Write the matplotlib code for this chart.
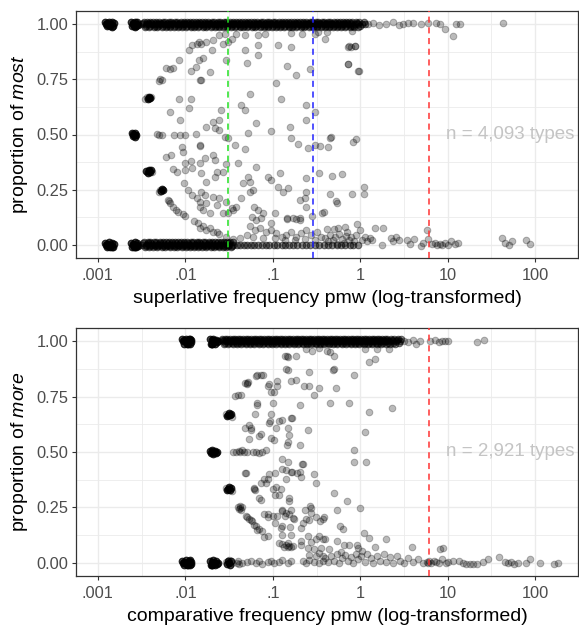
import matplotlib

matplotlib.use("Agg")
import matplotlib.pyplot as plt
import numpy as np

plt.rcParams["font.family"] = ["Liberation Sans", "DejaVu Sans"]
plt.rcParams["mathtext.fontset"] = "custom"
plt.rcParams["mathtext.rm"] = "Liberation Sans"
plt.rcParams["mathtext.it"] = "Liberation Sans:italic"

# x values are log10(frequency pmw), y values are proportions
X_TICKS = [-3, -2, -1, 0, 1, 2]
X_LABELS = [".001", ".01", ".1", "1", "10", "100"]
Y_TICKS = [0.0, 0.25, 0.5, 0.75, 1.0]
Y_LABELS = ["0.00", "0.25", "0.50", "0.75", "1.00"]

# how many types pile up behind each plotted position in the dense bands / clusters
BAND_STACK = 2
CLUSTER_STACK = 4

# ---------------- superlatives (most) ----------------
sup_one_rows = [1.012, 1.0, 0.988, 1.006, 0.994]
sup_one_x = [
    [-2.47, -2.44, -2.40, -2.37, -2.33, -2.30, -2.26, -2.23, -2.19, -2.16, -2.12, -2.09, -2.05, -2.02,
     -1.98, -1.95, -1.91, -1.88, -1.84, -1.81, -1.77, -1.74, -1.70, -1.67, -1.63, -1.60, -1.56, -1.53,
     -1.49, -1.46, -1.42, -1.39, -1.35, -1.32, -1.28, -1.25, -1.21, -1.18, -1.14, -1.11, -1.07, -1.04,
     -1.00, -0.97, -0.93, -0.90, -0.86, -0.83, -0.79, -0.76, -0.72, -0.69, -0.65, -0.62, -0.58, -0.55,
     -0.51, -0.48, -0.44, -0.41, -0.37, -0.34, -0.30, -0.27, -0.23, -0.20, -0.16, -0.13, -0.09, -0.05,
     -0.01, 0.04],
    [-2.49, -2.45, -2.42, -2.38, -2.35, -2.31, -2.28, -2.24, -2.21, -2.17, -2.14, -2.10, -2.07, -2.03,
     -2.00, -1.96, -1.93, -1.89, -1.86, -1.82, -1.79, -1.75, -1.72, -1.68, -1.65, -1.61, -1.58, -1.54,
     -1.51, -1.47, -1.44, -1.40, -1.37, -1.33, -1.30, -1.26, -1.23, -1.19, -1.16, -1.12, -1.09, -1.05,
     -1.02, -0.98, -0.95, -0.91, -0.88, -0.84, -0.81, -0.77, -0.74, -0.70, -0.67, -0.63, -0.60, -0.56,
     -0.53, -0.49, -0.46, -0.42, -0.39, -0.35, -0.32, -0.28, -0.25, -0.21, -0.18, -0.14, -0.10, -0.06,
     -0.02, 0.02, 0.06],
    [-2.46, -2.41, -2.36, -2.32, -2.27, -2.22, -2.18, -2.13, -2.08, -2.04, -1.99, -1.94, -1.90, -1.85,
     -1.80, -1.76, -1.71, -1.66, -1.62, -1.57, -1.52, -1.48, -1.43, -1.38, -1.34, -1.29, -1.24, -1.20,
     -1.15, -1.10, -1.06, -1.01, -0.96, -0.92, -0.87, -0.82, -0.78, -0.73, -0.68, -0.64, -0.59, -0.54,
     -0.50, -0.45, -0.40, -0.36, -0.31, -0.26, -0.22, -0.17, -0.12, -0.07, -0.03],
    [-2.48, -2.43, -2.39, -2.34, -2.29, -2.25, -2.20, -2.15, -2.11, -2.06, -2.01, -1.97, -1.92, -1.87,
     -1.83, -1.78, -1.73, -1.69, -1.64, -1.59, -1.55, -1.50, -1.45, -1.41, -1.36, -1.31, -1.27, -1.22,
     -1.17, -1.13, -1.08, -1.03, -0.99, -0.94, -0.89, -0.85, -0.80, -0.75, -0.71, -0.66, -0.61, -0.57,
     -0.52, -0.47, -0.43, -0.38, -0.33, -0.29, -0.24, -0.19, -0.15, -0.11, -0.04],
    [-2.45, -2.40, -2.35, -2.31, -2.26, -2.21, -2.17, -2.12, -2.07, -2.03, -1.98, -1.93, -1.89, -1.84,
     -1.79, -1.75, -1.70, -1.65, -1.61, -1.56, -1.51, -1.47, -1.42, -1.37, -1.33, -1.28, -1.23, -1.19,
     -1.14, -1.09, -1.05, -1.00, -0.95, -0.91, -0.86, -0.81, -0.77, -0.72, -0.67, -0.63, -0.58, -0.53,
     -0.49, -0.44, -0.39, -0.35, -0.30, -0.25, -0.21, -0.16, -0.11, -0.08, 0.00],
]
sup_zero_rows = [0.012, 0.0, -0.012, 0.006, -0.006]
sup_zero_x = [
    [-2.47, -2.43, -2.40, -2.36, -2.33, -2.29, -2.26, -2.22, -2.19, -2.15, -2.12, -2.08, -2.05, -2.01,
     -1.98, -1.94, -1.91, -1.87, -1.84, -1.80, -1.77, -1.73, -1.70, -1.66, -1.63, -1.59, -1.56, -1.52,
     -1.49, -1.45],
    [-2.49, -2.45, -2.42, -2.38, -2.35, -2.31, -2.28, -2.24, -2.21, -2.17, -2.14, -2.10, -2.07, -2.03,
     -2.00, -1.96, -1.93, -1.89, -1.86, -1.82, -1.79, -1.75, -1.72, -1.68, -1.65, -1.61, -1.58, -1.54,
     -1.50, -1.46, -1.41, -1.37, -1.33, -1.29, -1.25, -1.21, -1.17, -1.12, -1.08, -1.04, -0.99, -0.95,
     -0.90, -0.86, -0.81, -0.77, -0.72, -0.67, -0.62, -0.57, -0.52, -0.47, -0.42, -0.37, -0.32, -0.27,
     -0.22, -0.17, -0.12, -0.08, -0.03],
    [-2.46, -2.41, -2.37, -2.32, -2.27, -2.23, -2.18, -2.13, -2.09, -2.04, -1.99, -1.95, -1.90, -1.85,
     -1.81, -1.76, -1.71, -1.67, -1.62, -1.57, -1.53, -1.48],
    [-2.48, -2.43, -2.39, -2.34, -2.29, -2.25, -2.20, -2.15, -2.11, -2.06, -2.01, -1.97, -1.92, -1.87,
     -1.83, -1.78, -1.73, -1.69, -1.64, -1.59, -1.55, -1.50],
    [-2.45, -2.40, -2.35, -2.31, -2.26, -2.21, -2.17, -2.12, -2.07, -2.03, -1.98, -1.93, -1.89, -1.84,
     -1.79, -1.75, -1.70, -1.65, -1.61, -1.56, -1.51, -1.47],
]
# 1-, 2- and 3-token types: heavy overplotting
sup_heavy = [
    (-2.92, 1.01), (-2.90, 0.99), (-2.89, 1.005), (-2.87, 1.012), (-2.86, 0.992), (-2.85, 1.0),
    (-2.84, 1.01), (-2.83, 0.99), (-2.82, 1.005), (-2.88, 0.995), (-2.91, 1.0), (-2.84, 0.988),
    (-2.92, 0.01), (-2.90, -0.01), (-2.89, 0.005), (-2.87, 0.012), (-2.86, -0.008), (-2.85, 0.0),
    (-2.84, 0.01), (-2.83, -0.01), (-2.82, 0.005), (-2.88, -0.005), (-2.91, 0.0), (-2.84, -0.012),
    (-2.62, 1.01), (-2.61, 0.99), (-2.60, 1.005), (-2.59, 0.99), (-2.58, 1.012), (-2.57, 1.0),
    (-2.56, 0.99), (-2.55, 1.008), (-2.54, 0.995), (-2.60, 1.0), (-2.57, 0.988), (-2.55, 1.0),
    (-2.62, 0.01), (-2.61, -0.01), (-2.60, 0.005), (-2.59, -0.01), (-2.58, 0.012), (-2.57, 0.0),
    (-2.56, -0.01), (-2.55, 0.008), (-2.54, -0.005), (-2.60, 0.0), (-2.57, -0.012), (-2.55, 0.0),
    (-2.61, 0.505), (-2.60, 0.495), (-2.59, 0.50), (-2.58, 0.508), (-2.57, 0.49), (-2.56, 0.50),
    (-2.58, 0.497), (-2.60, 0.503),
    (-2.43, 0.66), (-2.41, 0.672), (-2.40, 0.664), (-2.42, 0.667),
    (-2.45, 0.335), (-2.43, 0.325), (-2.42, 0.34), (-2.40, 0.33), (-2.39, 0.338), (-2.41, 0.333),
    (-2.28, 0.245), (-2.27, 0.255), (-2.26, 0.248),
]
sup_low_tokens = [
    (-2.44, 0.67), (-2.39, 0.668), (-2.46, 0.662), (-2.44, 0.328), (-2.38, 0.332),
    (-2.30, 0.743), (-2.27, 0.745), (-2.29, 0.75),
    (-2.29, 0.25), (-2.30, 0.24),
    (-2.32, 0.502), (-2.27, 0.497), (-2.30, 0.5),
    (-2.22, 0.803), (-2.18, 0.798), (-2.146, 0.803), (-2.18, 0.603), (-2.22, 0.40), (-2.165, 0.407),
    (-2.20, 0.203), (-2.18, 0.188), (-2.146, 0.173), (-2.19, 0.198),
]
sup_middle = [
    (-2.13, 0.5), (-2.06, 0.5), (-2.0, 0.5), (-2.07, 0.84), (-2.07, 0.663), (-1.94, 0.663),
    (-1.955, 0.618), (-2.06, 0.565), (-1.88, 0.502), (-2.04, 0.445), (-2.025, 0.42), (-1.83, 0.45),
    (-2.146, 0.342), (-2.09, 0.331), (-2.0, 0.37), (-1.94, 0.38), (-2.0, 0.34), (-1.925, 0.347),
    (-2.01, 0.282), (-1.975, 0.248), (-1.92, 0.226), (-1.87, 0.21), (-1.835, 0.196), (-2.11, 0.158),
    (-2.08, 0.15), (-2.03, 0.14), (-2.0, 0.131), (-1.90, 0.108), (-1.85, 0.098), (-1.94, 0.79),
    (-1.88, 0.806), (-1.84, 0.837), (-1.955, 0.882), (-1.92, 0.905), (-1.87, 0.912), (-1.84, 0.92),
    (-1.83, 0.746), (-1.82, 0.324),
    (-1.815, 0.912), (-1.76, 0.92), (-1.68, 0.927), (-1.61, 0.95), (-1.55, 0.957), (-1.57, 0.912),
    (-1.51, 0.92), (-1.47, 0.935), (-1.415, 0.957), (-1.32, 0.95), (-1.17, 0.95), (-1.09, 0.957),
    (-1.17, 0.905), (-1.32, 0.885), (-0.94, 0.905), (-0.79, 0.96), (-0.79, 0.897), (-0.67, 0.957),
    (-0.52, 0.957), (-0.48, 0.965), (-1.70, 0.882), (-1.53, 0.837), (-1.30, 0.822), (-1.17, 0.86),
    (-1.80, 0.845), (-1.72, 0.784), (-1.815, 0.746), (-0.84, 0.81), (-0.73, 0.769), (-0.58, 0.795),
    (-0.965, 0.734), (-1.26, 0.683), (-0.91, 0.663), (-1.59, 0.61), (-1.36, 0.633), (-1.32, 0.61),
    (-0.615, 0.633), (-0.52, 0.603), (-1.76, 0.535), (-1.68, 0.558), (-1.62, 0.565), (-1.66, 0.528),
    (-1.61, 0.52), (-1.19, 0.55), (-1.28, 0.508), (-1.015, 0.517), (-0.805, 0.535), (-0.615, 0.565),
    (-1.55, 0.49), (-1.51, 0.482), (-1.43, 0.452), (-1.32, 0.433), (-0.79, 0.485), (-0.71, 0.455),
    (-0.60, 0.44), (-0.52, 0.452), (-0.46, 0.448), (-1.834, 0.452), (-1.78, 0.392), (-1.68, 0.407),
    (-1.66, 0.384), (-1.53, 0.366), (-1.40, 0.372), (-1.19, 0.351), (-1.834, 0.37), (-1.64, 0.332),
    (-1.57, 0.332), (-1.66, 0.309), (-1.76, 0.286), (-1.34, 0.282), (-1.28, 0.309), (-1.26, 0.286),
    (-1.225, 0.248), (-1.26, 0.241), (-1.05, 0.309), (-1.015, 0.294), (-0.92, 0.324), (-0.94, 0.264),
    (-0.88, 0.241), (-0.825, 0.256), (-0.615, 0.301), (-0.69, 0.203), (-0.63, 0.211), (-1.815, 0.241),
    (-1.78, 0.226), (-1.68, 0.218), (-1.61, 0.211), (-1.53, 0.196), (-1.47, 0.166), (-1.45, 0.158),
    (-1.76, 0.188), (-1.72, 0.143), (-1.64, 0.181), (-1.57, 0.143), (-1.51, 0.143), (-1.415, 0.173),
    (-1.36, 0.211), (-1.80, 0.158), (-1.834, 0.173), (-1.21, 0.173), (-1.17, 0.158), (-1.11, 0.143),
    (-0.98, 0.146), (-0.84, 0.116), (-0.73, 0.116), (-0.69, 0.113), (-1.19, 0.113), (-1.015, 0.098),
    (-1.24, 0.128), (-1.13, 0.12),
    (-0.38, 0.965), (-0.40, 0.935), (-0.093, 0.97), (-0.14, 0.897), (-0.10, 0.897), (-0.06, 0.9),
    (-0.14, 0.82), (-0.02, 0.79), (-0.34, 0.486), (-0.37, 0.445), (-0.33, 0.49), (-0.08, 0.467),
    (-0.05, 0.478), (-0.32, 0.31), (-0.21, 0.32), (-0.35, 0.23), (-0.093, 0.23), (0.04, 0.26),
    (0.04, 0.23), (-0.28, 0.2), (-0.26, 0.19), (-0.417, 0.15), (-0.62, 0.17), (-0.44, 0.145),
    (-0.55, 0.13), (-0.62, 0.24), (-0.47, 0.325),
]
sup_near_zero = [
    (-1.834, 0.075), (-1.76, 0.067), (-1.68, 0.06), (-1.61, 0.05), (-1.53, 0.037), (-1.45, 0.025),
    (-1.80, 0.083), (-1.72, 0.075), (-1.64, 0.06), (-1.263, 0.083), (-1.205, 0.068), (-1.148, 0.075),
    (-1.072, 0.06), (-1.015, 0.068), (-0.958, 0.052), (-0.90, 0.037), (-0.844, 0.045), (-0.786, 0.06),
    (-0.729, 0.037), (-0.672, 0.052), (-0.615, 0.068), (-0.558, 0.045), (-0.50, 0.06), (-0.444, 0.037),
    (-1.224, 0.037), (-1.11, 0.03), (-0.977, 0.03), (-0.863, 0.022), (-0.748, 0.022), (-0.634, 0.025),
    (-0.52, 0.022), (-0.84, 0.12), (-0.77, 0.12), (-0.69, 0.12), (-1.38, 0.03), (-1.30, 0.045),
    (-0.38, 0.07), (-0.30, 0.07), (-0.25, 0.075), (-0.17, 0.08), (-0.15, 0.06), (-0.04, 0.095),
    (0.0, 0.068), (0.17, 0.078), (0.26, 0.078), (0.76, 0.068),
    (-0.40, 0.03), (-0.37, 0.015), (-0.34, 0.045), (-0.31, 0.02), (-0.29, 0.035), (-0.26, 0.005),
    (-0.24, 0.05), (-0.21, 0.025), (-0.19, 0.01), (-0.16, 0.04), (-0.13, 0.02), (-0.10, 0.035),
    (-0.07, 0.015), (-0.05, 0.045), (0.02, 0.02), (0.05, 0.035), (0.08, 0.015), (0.11, 0.03),
    (0.14, 0.02), (0.25, 0.0), (0.35, 0.03), (0.38, 0.015), (0.41, 0.035), (0.44, 0.02), (0.53, 0.02),
    (0.57, 0.005), (0.61, 0.025), (0.69, -0.005), (0.72, 0.01), (0.78, 0.025), (0.82, 0.005),
    (0.85, 0.01), (0.88, 0.0), (0.91, 0.005), (0.94, 0.0), (0.97, 0.01), (1.0, 0.0), (1.04, 0.015),
    (1.08, 0.005), (1.12, 0.01), (1.62, 0.03), (1.66, 0.01), (1.70, 0.0), (1.74, 0.018), (1.90, 0.02),
    (1.94, 0.005),
]
sup_top_sparse = [
    (0.09, 1.0), (0.15, 1.005), (0.21, 0.995), (0.29, 1.0), (0.38, 1.01), (0.44, 0.995), (0.49, 1.0),
    (0.55, 1.006), (0.605, 1.006), (0.69, 1.0), (0.775, 1.006), (0.87, 1.006), (0.91, 1.0),
    (0.965, 0.98), (1.06, 0.946), (1.10, 1.0), (1.14, 1.0), (1.63, 1.006),
    (-0.13, 0.90), (-0.055, 0.90), (-0.14, 0.82), (-0.017, 0.79),
]

# ---------------- comparatives (more) ----------------
comp_one_rows = [1.012, 1.0, 0.988, 1.006, 0.994]
comp_one_x = [
    [-1.58, -1.55, -1.52, -1.49, -1.46, -1.43, -1.40, -1.37, -1.34, -1.31, -1.28, -1.25, -1.22, -1.19,
     -1.16, -1.13, -1.10, -1.07, -1.04, -1.01, -0.98, -0.95, -0.92, -0.89, -0.86, -0.83, -0.80, -0.77,
     -0.74, -0.71, -0.68, -0.65, -0.62, -0.59, -0.56, -0.53, -0.50, -0.47, -0.44, -0.41, -0.38, -0.35,
     -0.32, -0.29, -0.26, -0.23, -0.20, -0.17, -0.14, -0.11, -0.08, -0.05, -0.02, 0.01, 0.04, 0.07,
     0.10, 0.13, 0.16, 0.19, 0.22, 0.25, 0.28, 0.31, 0.35, 0.39, 0.43, 0.47],
    [-1.57, -1.53, -1.50, -1.47, -1.44, -1.41, -1.38, -1.35, -1.32, -1.29, -1.26, -1.23, -1.20, -1.17,
     -1.14, -1.11, -1.08, -1.05, -1.02, -0.99, -0.96, -0.93, -0.90, -0.87, -0.84, -0.81, -0.78, -0.75,
     -0.72, -0.69, -0.66, -0.63, -0.60, -0.57, -0.54, -0.51, -0.48, -0.45, -0.42, -0.39, -0.36, -0.33,
     -0.30, -0.27, -0.24, -0.21, -0.18, -0.15, -0.12, -0.09, -0.06, -0.03, 0.00, 0.03, 0.06, 0.09,
     0.12, 0.15, 0.18, 0.21, 0.24, 0.27, 0.30, 0.33, 0.37, 0.41, 0.45],
    [-1.56, -1.51, -1.46, -1.41, -1.36, -1.31, -1.26, -1.21, -1.16, -1.11, -1.06, -1.01, -0.96, -0.91,
     -0.86, -0.81, -0.76, -0.71, -0.66, -0.61, -0.56, -0.51, -0.46, -0.41, -0.36, -0.31, -0.26, -0.21,
     -0.16, -0.11, -0.06, -0.01, 0.04, 0.09, 0.14, 0.19, 0.24, 0.29, 0.34, 0.40],
    [-1.575, -1.535, -1.495, -1.455, -1.415, -1.375, -1.335, -1.295, -1.255, -1.215, -1.175, -1.135,
     -1.095, -1.055, -1.015, -0.975, -0.935, -0.895, -0.855, -0.815, -0.775, -0.735, -0.695, -0.655,
     -0.615, -0.575, -0.535, -0.495, -0.455, -0.415, -0.375, -0.335, -0.295, -0.255, -0.215, -0.175,
     -0.135, -0.095, -0.055, -0.015, 0.025, 0.065, 0.105, 0.145, 0.185, 0.225, 0.265, 0.305, 0.36,
     0.42],
    [-1.545, -1.505, -1.465, -1.425, -1.385, -1.345, -1.305, -1.265, -1.225, -1.185, -1.145, -1.105,
     -1.065, -1.025, -0.985, -0.945, -0.905, -0.865, -0.825, -0.785, -0.745, -0.705, -0.665, -0.625,
     -0.585, -0.545, -0.505, -0.465, -0.425, -0.385, -0.345, -0.305, -0.265, -0.225, -0.185, -0.145,
     -0.105, -0.065, -0.025, 0.015, 0.055, 0.095, 0.135, 0.175, 0.215, 0.255, 0.32, 0.38, 0.44],
]
comp_heavy = [
    (-2.04, 1.01), (-2.02, 0.99), (-2.01, 1.005), (-1.99, 1.012), (-1.98, 0.99), (-1.97, 1.0),
    (-1.96, 1.01), (-1.95, 0.99), (-1.94, 1.005), (-1.93, 0.995), (-2.03, 1.0), (-1.97, 0.988),
    (-2.00, 1.0), (-1.95, 1.012),
    (-2.04, 0.01), (-2.02, -0.01), (-2.01, 0.005), (-1.99, 0.012), (-1.98, -0.01), (-1.97, 0.0),
    (-1.96, 0.01), (-1.95, -0.01), (-1.94, 0.005), (-1.93, -0.005), (-2.03, 0.0), (-1.97, -0.012),
    (-2.00, 0.0), (-1.95, 0.012),
    (-1.72, 1.01), (-1.71, 0.99), (-1.70, 1.005), (-1.69, 0.99), (-1.68, 1.012), (-1.67, 1.0),
    (-1.66, 0.99), (-1.65, 1.008), (-1.64, 0.995), (-1.63, 1.0), (-1.70, 0.988), (-1.66, 1.0),
    (-1.72, 0.505), (-1.71, 0.495), (-1.70, 0.50), (-1.69, 0.508), (-1.68, 0.49), (-1.67, 0.50),
    (-1.66, 0.505), (-1.65, 0.495), (-1.64, 0.50), (-1.68, 0.50),
    (-1.72, 0.01), (-1.71, -0.01), (-1.70, 0.005), (-1.69, -0.01), (-1.68, 0.012), (-1.67, 0.0),
    (-1.66, -0.01), (-1.65, 0.008), (-1.64, -0.005), (-1.63, 0.0), (-1.70, -0.012), (-1.66, 0.0),
    (-1.52, 0.662), (-1.51, 0.668), (-1.50, 0.675), (-1.49, 0.665), (-1.48, 0.67),
    (-1.52, 0.328), (-1.51, 0.334), (-1.50, 0.34), (-1.49, 0.33), (-1.48, 0.336),
    (-1.52, -0.008), (-1.51, 0.01), (-1.50, 0.0), (-1.49, -0.01), (-1.48, 0.008),
]
comp_low_tokens = [
    (-1.53, 0.672), (-1.47, 0.66), (-1.50, 0.667), (-1.53, 0.338), (-1.47, 0.326), (-1.50, 0.333),
    (-1.53, 0.005), (-1.47, 0.0), (-1.50, 0.012),
    (-1.40, 0.25), (-1.39, 0.243), (-1.38, 0.255), (-1.37, 0.247), (-1.36, 0.24), (-1.35, 0.25),
    (-1.40, 0.757), (-1.36, 0.757), (-1.43, 0.754), (-1.42, 0.5), (-1.385, 0.505), (-1.35, 0.51),
    (-1.46, 0.5), (-1.38, 0.5), (-1.41, 0.0), (-1.40, 0.01), (-1.385, -0.005), (-1.35, 0.0),
    (-1.29, 0.81), (-1.30, 0.805), (-1.28, 0.815), (-1.32, 0.81), (-1.32, 0.406), (-1.31, 0.406),
    (-1.25, 0.61), (-1.27, 0.62), (-1.32, 0.61), (-1.30, 0.205), (-1.27, 0.198), (-1.25, 0.195),
    (-1.31, 0.21), (-1.24, 0.19), (-1.21, 0.17), (-1.18, 0.85), (-1.11, 0.85),
]
comp_middle = [
    (-0.83, 0.93), (-0.74, 0.935), (-0.62, 0.965), (-0.55, 0.958), (-0.47, 0.968), (-0.86, 0.935),
    (-0.84, 0.935), (-0.85, 0.875), (-1.14, 0.85), (-1.19, 0.845), (-1.05, 0.80), (-1.04, 0.805),
    (-0.83, 0.87), (-0.79, 0.82), (-0.74, 0.825), (-0.64, 0.80), (-0.585, 0.80), (-0.585, 0.86),
    (-0.47, 0.79), (-1.02, 0.77), (-0.53, 0.757), (-0.99, 0.77), (-0.955, 0.80), (-0.955, 0.82),
    (-1.175, 0.72), (-1.175, 0.713), (-1.0, 0.72), (-0.69, 0.713), (-1.20, 0.67), (-1.02, 0.67),
    (-0.89, 0.643), (-0.79, 0.652), (-0.78, 0.655), (-1.04, 0.633), (-0.93, 0.64), (-1.25, 0.60),
    (-1.14, 0.58), (-1.16, 0.573), (-1.02, 0.565), (-0.83, 0.61), (-0.81, 0.575), (-0.60, 0.60),
    (-0.83, 0.545), (-0.69, 0.53), (-1.27, 0.56), (-1.03, 0.64), (-0.96, 0.61), (-0.84, 0.53),
    (-0.99, 0.555), (-1.33, 0.5), (-1.29, 0.5), (-1.23, 0.5), (-1.19, 0.5), (-1.16, 0.497),
    (-1.12, 0.5), (-1.08, 0.508), (-0.89, 0.467), (-0.83, 0.455), (-0.66, 0.445), (-0.89, 0.425),
    (-0.775, 0.41), (-0.72, 0.406), (-0.68, 0.388), (-0.53, 0.40), (-0.51, 0.36), (-1.06, 0.376),
    (-1.08, 0.36), (-0.97, 0.403), (-1.14, 0.36), (-1.10, 0.38), (-1.04, 0.40), (-0.85, 0.38),
    (-0.85, 0.42), (-1.0, 0.334), (-0.91, 0.334), (-1.21, 0.334), (-1.20, 0.33), (-1.22, 0.338),
    (-0.97, 0.308), (-0.93, 0.308), (-1.14, 0.285), (-1.16, 0.293), (-0.81, 0.293), (-0.82, 0.28),
    (-0.96, 0.34), (-0.89, 0.233), (-1.06, 0.218), (-1.0, 0.21), (-0.95, 0.21), (-0.85, 0.225),
    (-0.81, 0.218), (-0.76, 0.198), (-0.565, 0.248), (-0.565, 0.225), (-0.62, 0.198), (-0.585, 0.195),
    (-0.51, 0.205), (-0.43, 0.198), (-1.10, 0.22), (-1.06, 0.205), (-0.90, 0.24), (-0.86, 0.21),
    (-0.79, 0.237), (-0.63, 0.24), (-0.58, 0.254), (-1.19, 0.168), (-1.16, 0.153), (-1.12, 0.142),
    (-1.06, 0.122), (-0.89, 0.165), (-0.79, 0.127), (-0.68, 0.157), (-0.66, 0.18), (-1.18, 0.146),
    (-1.10, 0.117), (-0.97, 0.178), (-0.91, 0.156), (-0.90, 0.124), (-0.83, 0.088), (-0.79, 0.07),
    (-0.80, 0.16), (-0.93, 0.09), (-0.89, 0.085), (-0.85, 0.08), (-0.81, 0.075), (-0.77, 0.075),
    (-0.87, 0.07), (-0.83, 0.072), (-0.68, 0.10), (-0.60, 0.12), (-0.56, 0.092), (-0.51, 0.105),
    (-0.47, 0.12), (-0.43, 0.105), (-0.68, 0.08), (-0.60, 0.066), (-0.53, 0.06), (-0.45, 0.066),
    (-0.585, 0.035), (-0.51, 0.03), (-0.47, 0.045), (-0.43, 0.03),
    (-0.38, 0.958), (-0.34, 0.953), (-0.30, 0.935), (0.06, 0.965), (0.19, 0.965), (0.33, 0.965),
    (0.097, 0.905), (0.17, 0.92), (-0.30, 0.875), (-0.07, 0.85), (-0.28, 0.79), (-0.34, 0.72),
    (-0.13, 0.72), (0.097, 0.68), (0.36, 0.70), (0.06, 0.59), (-0.07, 0.51), (-0.07, 0.456),
    (0.07, 0.456), (-0.30, 0.316), (-0.15, 0.278), (-0.265, 0.24), (0.0, 0.248), (-0.417, 0.205),
    (-0.23, 0.165), (-0.20, 0.153), (0.04, 0.134), (0.097, 0.112), (0.30, 0.107), (-0.40, 0.105),
    (-0.26, 0.10), (-0.19, 0.08), (-0.13, 0.08), (-0.04, 0.08), (-0.02, 0.065), (0.17, 0.072),
    (0.59, 0.072), (0.91, 0.063), (0.95, 0.068), (-0.31, 0.87), (-0.67, 0.445), (-0.79, 0.41),
    (-0.69, 0.408), (-0.77, 0.20), (-0.46, 0.19),
]
comp_near_zero = [
    (-1.29, 0.005), (-1.25, 0.01), (-1.195, 0.0), (-1.16, 0.01), (-1.12, -0.005), (-1.06, 0.005),
    (-1.02, 0.01), (-0.985, 0.0), (-0.93, 0.005), (-0.89, 0.012), (-0.83, 0.0), (-0.79, 0.008),
    (-0.66, 0.01), (-0.62, 0.0), (-0.585, 0.012), (-0.53, 0.005), (-0.47, 0.0), (-0.43, 0.01),
    (-0.40, 0.02), (-0.37, 0.005), (-0.33, 0.03), (-0.30, 0.01), (-0.27, 0.04), (-0.24, 0.0),
    (-0.21, 0.02), (-0.17, 0.035), (-0.14, 0.01), (-0.11, 0.025), (-0.08, 0.0), (-0.05, 0.04),
    (-0.02, 0.015), (0.01, 0.03), (0.05, 0.005), (0.08, 0.04), (0.12, 0.02), (0.15, 0.0),
    (0.19, 0.03), (0.23, 0.01), (0.27, 0.04), (0.30, 0.005), (0.34, 0.025), (0.38, 0.0),
    (0.42, 0.03), (0.46, 0.01), (0.50, 0.0), (0.55, 0.02), (0.60, 0.005), (0.66, 0.015),
    (0.72, 0.0), (0.76, 0.005), (0.78, 0.0), (0.79, 0.01), (0.81, 0.0), (0.84, 0.01), (0.87, 0.005),
    (0.90, 0.0), (0.94, 0.015), (0.98, 0.0), (-0.36, 0.06), (-0.22, 0.05), (0.02, 0.055),
    (1.0, 0.005), (1.06, 0.01), (1.13, 0.01), (1.17, 0.0), (1.21, -0.005), (1.25, -0.005),
    (1.29, -0.008), (1.34, -0.005), (1.40, 0.003), (1.46, 0.018), (1.59, 0.024), (1.65, 0.005),
    (1.69, -0.003), (1.72, 0.005), (1.76, -0.005), (1.80, -0.003), (1.90, 0.0), (1.945, 0.015),
    (2.05, 0.0), (2.22, -0.006), (2.26, 0.0),
]
comp_top_sparse = [
    (0.50, 1.0), (0.55, 0.995), (0.60, 1.005), (0.64, 0.99), (0.68, 1.0), (0.80, 1.0), (0.86, 1.005),
    (0.90, 0.995), (0.94, 1.0), (0.97, 1.0), (1.0, 1.0), (1.34, 0.998), (1.42, 1.005),
]

sup_vlines = [(-1.51, "#22e022"), (-0.535, "#2222ff"), (0.79, "#ff3333")]
comp_vlines = [(0.79, "#ff3333")]

POINT = dict(s=23, c="black", alpha=0.27, edgecolors="black", linewidths=0.7, zorder=2)


def draw_panel(ax, one_rows, one_x, zero_rows, zero_x, groups, vlines, note, xlabel, ylabel):
    for _ in range(BAND_STACK):
        for y, xs in zip(one_rows, one_x):
            ax.scatter(xs, [y] * len(xs), **POINT)
        for y, xs in zip(zero_rows, zero_x):
            ax.scatter(xs, [y] * len(xs), **POINT)
    for grp, stack in groups:
        arr = np.array(grp)
        for _ in range(stack):
            ax.scatter(arr[:, 0], arr[:, 1], **POINT)
    for x, col in vlines:
        ax.axvline(x, color=col, lw=1.1, ls=(0, (4, 3)), zorder=3)
    ax.text(1.71, 0.5, note, color="#c4c4c4", fontsize=13.5, ha="center", va="center", zorder=4)

    ax.set_xlim(-3.25, 2.49)
    ax.set_ylim(-0.06, 1.06)
    ax.set_xticks(X_TICKS)
    ax.set_xticklabels(X_LABELS)
    ax.set_xticks([-2.5, -1.5, -0.5, 0.5, 1.5], minor=True)
    ax.set_yticks(Y_TICKS)
    ax.set_yticklabels(Y_LABELS)
    ax.set_yticks([0.125, 0.375, 0.625, 0.875], minor=True)
    ax.grid(True, which="major", color="#ebebeb", lw=1.0, zorder=0)
    ax.grid(True, which="minor", color="#ebebeb", lw=0.6, zorder=0)
    ax.set_axisbelow(True)
    ax.tick_params(which="major", length=2.75, width=0.8, color="#333333", labelcolor="#4d4d4d",
                   labelsize=11.8, pad=2.5)
    ax.tick_params(axis="x", which="major", pad=4.5)
    ax.tick_params(which="minor", length=0)
    for sp in ax.spines.values():
        sp.set_color("#333333")
        sp.set_linewidth(0.9)
    ax.set_xlabel(xlabel, fontsize=14, labelpad=5)
    ax.set_ylabel(ylabel, fontsize=14, labelpad=5)


fig = plt.figure(figsize=(5.79, 6.26), dpi=100)
ax_top = fig.add_axes([76 / 579, 1 - 258 / 626, 502 / 579, 247 / 626])
ax_bot = fig.add_axes([76 / 579, 1 - 576 / 626, 502 / 579, 248 / 626])

draw_panel(ax_top, sup_one_rows, sup_one_x, sup_zero_rows, sup_zero_x,
           [(sup_heavy, CLUSTER_STACK), (sup_low_tokens, 1), (sup_middle, 1),
            (sup_near_zero, 1), (sup_top_sparse, 1)], sup_vlines,
           "n = 4,093 types", "superlative frequency pmw (log-transformed)",
           r"proportion of $\mathit{most}$")
draw_panel(ax_bot, comp_one_rows, comp_one_x, [], [],
           [(comp_heavy, CLUSTER_STACK), (comp_low_tokens, 1), (comp_middle, 1),
            (comp_near_zero, 1), (comp_top_sparse, 1)], comp_vlines,
           "n = 2,921 types", "comparative frequency pmw (log-transformed)",
           r"proportion of $\mathit{more}$")

fig.savefig("out.png", dpi=100)
